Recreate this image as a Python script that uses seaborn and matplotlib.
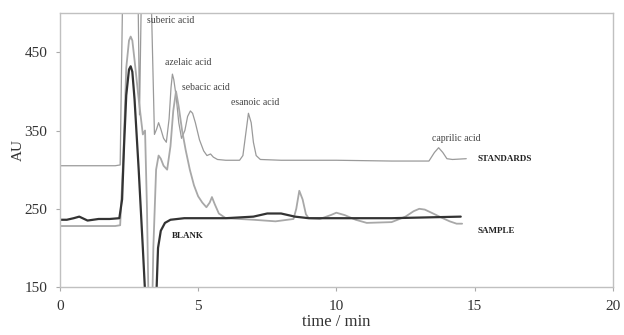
import numpy as np
import pandas as pd
import matplotlib
matplotlib.use("Agg")
import matplotlib.pyplot as plt
import seaborn as sns

# ---- data ----
std_t = [0.0, 1.0, 2.0, 2.18, 2.3, 2.8, 2.88, 2.98, 3.25, 3.42, 3.5, 3.57, 3.65, 3.75, 3.85, 3.95, 4.02,
         4.07, 4.12, 4.2, 4.3, 4.4, 4.52, 4.62, 4.72, 4.8, 4.9, 5.05, 5.2, 5.32, 5.45, 5.55, 5.7, 6.0, 6.5,
         6.62, 6.72, 6.82, 6.92, 7.0, 7.1, 7.25, 8.0, 10.0, 12.0, 13.35, 13.55, 13.7, 13.85, 14.0, 14.2, 14.7]
std_y = [305, 305, 305, 306, 600, 600, 370, 600, 600, 345, 352, 360, 352, 340, 335, 365, 405,
         422, 415, 395, 360, 340, 350, 368, 375, 372, 360, 338, 324, 318, 320, 316, 313, 312, 312,
         318, 345, 372, 360, 335, 318, 313, 312, 312, 311, 311, 322, 328, 322, 314, 313, 314]

smp_t = [0.0, 1.0, 2.0, 2.18, 2.3, 2.4, 2.5, 2.56, 2.62, 2.7, 2.85, 3.0, 3.08, 3.15, 3.22, 3.3, 3.38,
         3.48, 3.57, 3.65, 3.75, 3.88, 4.0, 4.1, 4.2, 4.3, 4.42, 4.55, 4.7, 4.85, 5.0, 5.15, 5.3, 5.42,
         5.5, 5.6, 5.75, 6.0, 7.0, 7.8, 8.45, 8.55, 8.66, 8.78, 8.9, 9.0, 9.4, 9.8, 10.0, 10.3, 10.7,
         11.1, 12.0, 12.5, 12.8, 13.0, 13.2, 13.5, 13.85, 14.1, 14.35, 14.55]
smp_y = [228, 228, 228, 229, 320, 430, 465, 470, 465, 440, 390, 345, 350, 250, 100, 50, 200,
         300, 318, 314, 305, 300, 330, 375, 400, 380, 350, 325, 300, 280, 266, 258, 252, 258,
         265, 256, 244, 238, 236, 234, 237, 250, 273, 262, 243, 238, 237, 242, 245, 242, 236,
         232, 233, 240, 247, 250, 249, 244, 238, 234, 231, 231]

blk_t = [0.0, 0.25, 0.5, 0.7, 1.0, 1.4, 1.8, 2.15, 2.25, 2.32, 2.4, 2.5, 2.56, 2.62, 2.7, 2.85, 3.0, 3.1,
         3.2, 3.45, 3.5, 3.55, 3.65, 3.8, 4.0, 4.5, 5.0, 6.0, 7.0, 7.5, 8.0, 8.5, 9.0, 10.0, 12.0, 14.5]
blk_y = [236, 236, 238, 240, 235, 237, 237, 238, 262, 330, 395, 428, 432, 425, 390, 300, 200, 130,
         50, 50, 150, 200, 222, 232, 236, 238, 238, 238, 240, 244, 244, 240, 238, 238, 238, 240]

x_ticks = [0, 5, 10, 15, 20]
y_ticks = [150, 250, 350, 450]

peak_labels = ["suberic acid", "azelaic acid", "sebacic acid", "esanoic acid", "caprilic acid"]
peak_label_pos = [(3.15, 490), (3.8, 437), (4.4, 405), (6.2, 386), (13.45, 340)]

sns.set_style("white")
plt.rcParams['font.family'] = ['Liberation Serif', 'DejaVu Serif']

fig = plt.figure(figsize=(6.24, 3.35), dpi=100)
ax = fig.add_axes([0.096, 0.143, 0.886, 0.818])

df_std = pd.DataFrame({"t": std_t, "y": std_y})
df_smp = pd.DataFrame({"t": smp_t, "y": smp_y})
df_blk = pd.DataFrame({"t": blk_t, "y": blk_y})

sns.lineplot(data=df_std, x="t", y="y", ax=ax, color="#9a9a9a", lw=0.9, sort=False, estimator=None)
sns.lineplot(data=df_smp, x="t", y="y", ax=ax, color="#a8a8a8", lw=1.3, sort=False, estimator=None)
sns.lineplot(data=df_blk, x="t", y="y", ax=ax, color="#333333", lw=1.6, sort=False, estimator=None)

ax.set_xlim(0, 20)
ax.set_ylim(150, 500)
ax.set_xticks(x_ticks)
ax.set_yticks(y_ticks)
ax.set_xlabel("time / min", fontsize=12, labelpad=1, color="#333333")
ax.set_ylabel("AU", fontsize=11, labelpad=0, color="#333333")
ax.tick_params(axis="both", labelsize=11, length=3, width=0.8, color="#aaaaaa", direction="out",
               left=True, bottom=True, labelcolor="#333333")
ax.tick_params(axis="x", pad=6)
ax.tick_params(axis="y", pad=6)
for s in ax.spines.values():
    s.set_color("#c0c0c0")
    s.set_linewidth(1.0)

for lab, (px, py) in zip(peak_labels, peak_label_pos):
    ax.text(px, py, lab, fontsize=7, color="#444444", ha="left", va="center")

ax.text(15.1, 314, "STANDARDS", fontsize=6.5, fontweight="bold", color="#222222", va="center")
ax.text(15.1, 222, "SAMPLE", fontsize=6.5, fontweight="bold", color="#222222", va="center")
ax.text(4.05, 215, "BLANK", fontsize=6.5, fontweight="bold", color="#222222", va="center")

fig.savefig("out.png", dpi=100)
